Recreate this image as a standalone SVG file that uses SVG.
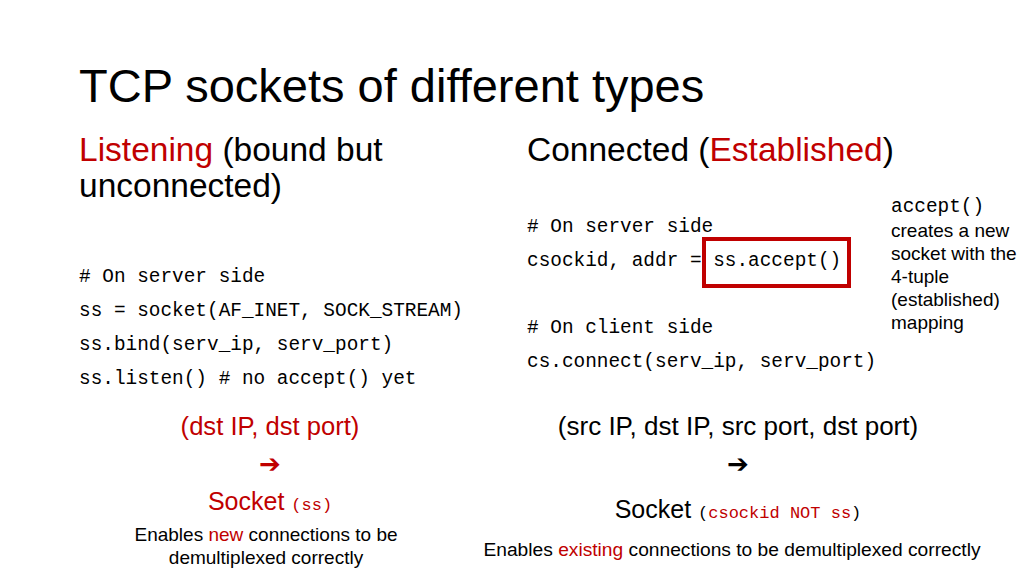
<svg xmlns="http://www.w3.org/2000/svg" width="1024" height="576" viewBox="0 0 1024 576">
<style>
.s{font-family:"Liberation Sans",Arial,sans-serif;fill:#000}
.m{font-family:"Liberation Mono","DejaVu Sans Mono",monospace;font-size:19.4px;fill:#000}
.r{fill:#c00000}
.t{font-size:33.5px}
</style>
<rect width="1024" height="576" fill="#fff"/>
<text class="s" x="79" y="102" font-size="47">TCP sockets of different types</text>
<text class="s t" x="79" y="161"><tspan class="r">Listening</tspan> (bound but</text>
<text class="s t" x="79" y="197">unconnected)</text>
<text class="s t" x="527" y="161">Connected (<tspan class="r">Established</tspan>)</text>
<text class="m" x="79" y="282"># On server side</text>
<text class="m" x="79" y="316">ss = socket(AF_INET, SOCK_STREAM)</text>
<text class="m" x="79" y="350">ss.bind(serv_ip, serv_port)</text>
<text class="m" x="79" y="384">ss.listen() # no accept() yet</text>
<text class="m" x="527" y="232"># On server side</text>
<text class="m" x="527" y="266">csockid, addr = ss.accept()</text>
<text class="m" x="527" y="333"># On client side</text>
<text class="m" x="527" y="367">cs.connect(serv_ip, serv_port)</text>
<rect x="704" y="239" width="145" height="47" fill="none" stroke="#c00000" stroke-width="4"/>
<text class="m" x="891" y="212" font-size="14.5">accept()</text>
<g class="s" font-size="19">
<text x="891" y="237">creates a new</text>
<text x="891" y="260">socket with the</text>
<text x="891" y="283">4-tuple</text>
<text x="891" y="306">(established)</text>
<text x="891" y="329">mapping</text>
</g>
<text class="s r" x="270" y="435" font-size="25.6" text-anchor="middle">(dst IP, dst port)</text>
<text x="270" y="473" font-size="26" font-weight="bold" text-anchor="middle" font-family="DejaVu Sans,sans-serif" fill="#c00000">➔</text>
<text class="s r" x="270" y="510" font-size="25" text-anchor="middle">Socket <tspan font-family="Liberation Mono,monospace" font-size="17">(ss)</tspan></text>
<text class="s" x="266" y="541" font-size="19" text-anchor="middle">Enables <tspan class="r">new</tspan> connections to be</text>
<text class="s" x="266" y="564" font-size="19" text-anchor="middle">demultiplexed correctly</text>
<text class="s" x="738" y="435" font-size="26" text-anchor="middle">(src IP,  dst IP, src port, dst port)</text>
<text x="738" y="473" font-size="26" font-weight="bold" text-anchor="middle" font-family="DejaVu Sans,sans-serif">➔</text>
<text class="s" x="738" y="518" font-size="25" text-anchor="middle">Socket <tspan font-family="Liberation Mono,monospace" font-size="17">(<tspan class="r">csockid NOT ss</tspan>)</tspan></text>
<text class="s" x="732" y="556" font-size="19.2" text-anchor="middle">Enables <tspan class="r">existing</tspan> connections to be demultiplexed correctly</text>
</svg>
